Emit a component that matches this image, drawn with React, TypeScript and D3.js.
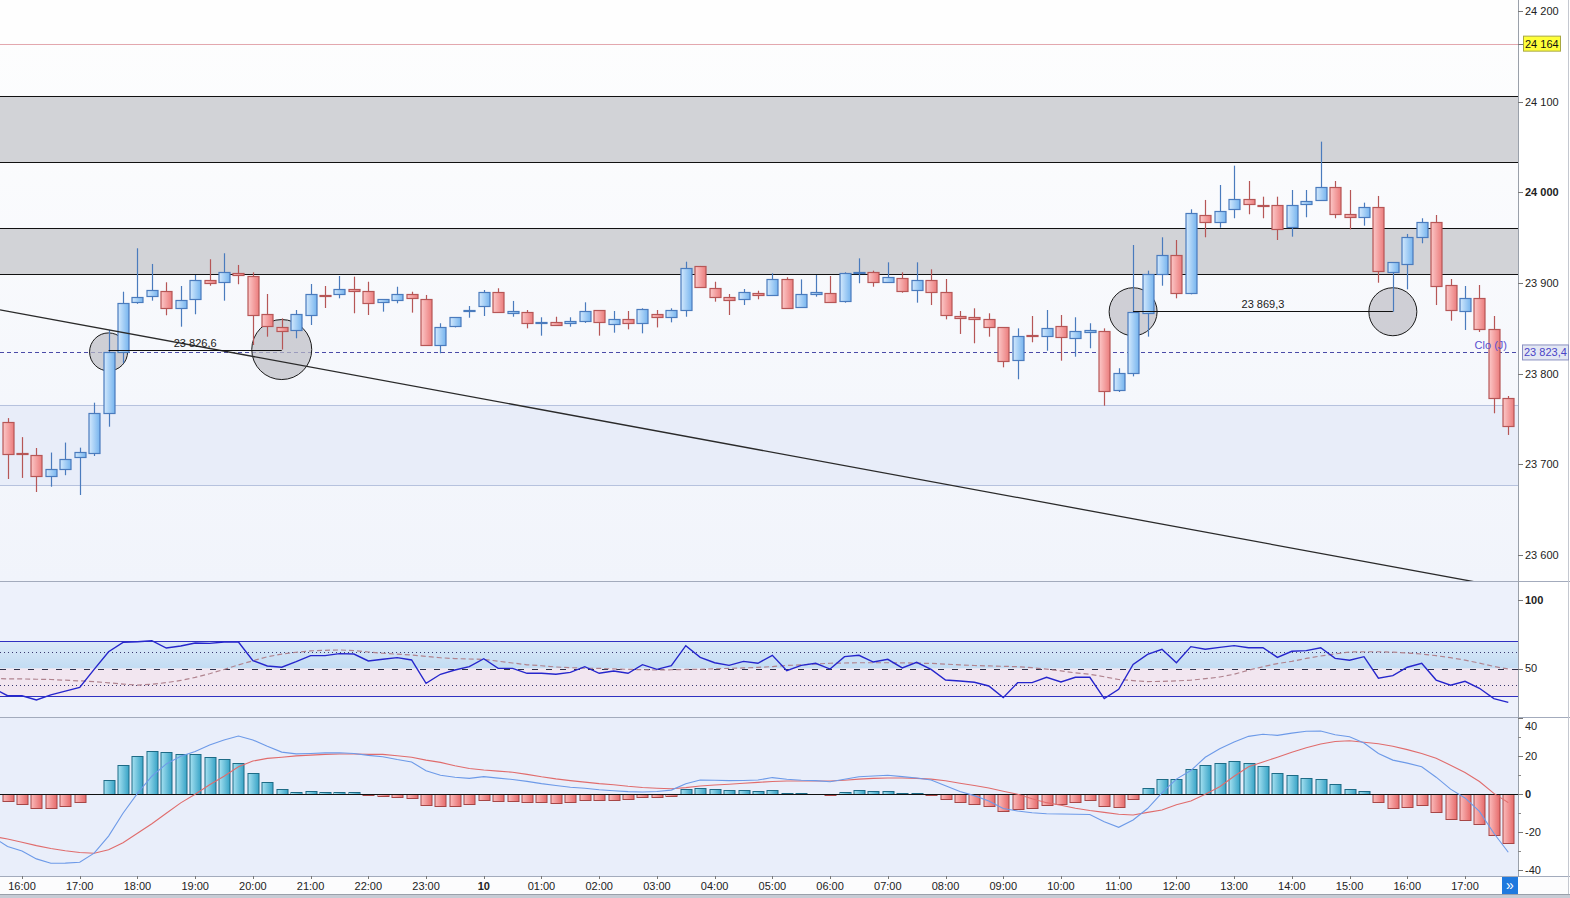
import React from 'react';
import * as d3 from 'd3';

// ---------- DATA (15-minute candles, index 0 = 15:45) ----------
const opens = [
  23746.7, 23712, 23710, 23686.4, 23694.5, 23707.3, 23712, 23756.3, 23823.6, 23878.7,
  23885.7, 23890.9, 23872.1, 23882, 23903, 23900.8, 23911, 23907.4, 23865.5, 23851.1,
  23848.2, 23864.4, 23887, 23887.5, 23893, 23890.9, 23878.7, 23880.9, 23887.5, 23882,
  23831.3, 23852.2, 23869.9, 23874.3, 23889.8, 23867.3, 23867.7, 23856.6, 23857, 23855.5,
  23858.4, 23869.9, 23854.4, 23860, 23855.5, 23865.5, 23862.2, 23869.9, 23918.4, 23894.2,
  23884.2, 23882, 23888.6, 23886.4, 23904, 23873.2, 23887.5, 23888.6, 23879.4, 23911,
  23911.8, 23900.8, 23905.2, 23892, 23903, 23889.8, 23863.3, 23862.2, 23860, 23851.1,
  23815.1, 23842.3, 23840.8, 23852.2, 23839, 23845.6, 23846.7, 23782, 23800.7, 23866.6,
  23909.9, 23930.9, 23888.6, 23974.7, 23967, 23981.3, 23992.3, 23985.7, 23985.7, 23961.4,
  23987.1, 23992.3, 24006.2, 23975.8, 23972.5, 23983.5, 23911.8, 23921.7, 23950.4, 23967,
  23897.8, 23868.3, 23883.1, 23848.9, 23772.8,
];
const highs = [
  23751, 23730, 23718, 23713, 23724, 23718.4, 23768, 23848.2, 23890.4, 23938.3,
  23921, 23900.8, 23896.7, 23908.8, 23926.2, 23932.8, 23919.9, 23911.8, 23887.9, 23861,
  23870.2, 23898.9, 23896.7, 23907.7, 23907, 23901.4, 23882.3, 23895.9, 23890.4, 23886.8,
  23855.6, 23862.5, 23874.6, 23892.3, 23894.2, 23880.2, 23870.2, 23862.2, 23862.8, 23862.2,
  23878.7, 23870.2, 23869.1, 23869.1, 23872.1, 23870.2, 23872.1, 23923.5, 23918.8, 23901.4,
  23887.9, 23893.4, 23891.5, 23910.7, 23906.3, 23904, 23908.8, 23907.7, 23911.8, 23927.2,
  23913.6, 23922.8, 23911.8, 23922.8, 23915.1, 23904.4, 23869.1, 23872.1, 23866.6, 23851.5,
  23850, 23863.6, 23870.2, 23864.7, 23862.2, 23855.6, 23850, 23806, 23941.9, 23913.6,
  23950.4, 23947.4, 23981.3, 23991.6, 24008.1, 24029.4, 24012.5, 23995.2, 23995.2, 24002.6,
  24002.6, 24055.9, 24012.5, 24002.6, 23988.6, 23996, 23922.8, 23954.1, 23971.4, 23975,
  23904.4, 23896.7, 23897.8, 23863.6, 23775.4,
];
const lows = [
  23683.8, 23685, 23669.5, 23675.3, 23688, 23666.2, 23709.2, 23741.5, 23811.4, 23877,
  23880.5, 23864.4, 23851.8, 23865.5, 23897, 23880.5, 23898.6, 23831.6, 23840.8, 23826.6,
  23839, 23853.7, 23872.4, 23883.1, 23866.6, 23864.7, 23868.4, 23877.6, 23867.3, 23831,
  23822.5, 23851, 23861.7, 23863.6, 23867, 23862.8, 23850, 23841.9, 23852.6, 23851.8,
  23856, 23841.9, 23845.2, 23848.9, 23844.5, 23851, 23856.6, 23862.8, 23895, 23879.4,
  23864.7, 23875.7, 23882, 23886.4, 23872.1, 23873.2, 23884.9, 23878.7, 23878.3, 23899.7,
  23895.9, 23900.8, 23889.3, 23878.3, 23875.7, 23859.9, 23843.8, 23833.5, 23840.8, 23807,
  23793.8, 23834.6, 23825.3, 23814.3, 23818.7, 23828, 23764.7, 23779.8, 23797, 23840.8,
  23897, 23883.1, 23887.5, 23950.4, 23961, 23971.4, 23975.8, 23971.4, 23947.4, 23951.1,
  23972.5, 23992.3, 23971.4, 23959.2, 23963.2, 23900.3, 23868.3, 23893, 23943.8, 23875.7,
  23858.4, 23848.2, 23846, 23756.3, 23732.4,
];
const closes = [
  23711.4, 23710.5, 23686.4, 23694.5, 23705.6, 23713.3, 23756.3, 23824, 23877.6, 23884.2,
  23892, 23872.1, 23881, 23903, 23899.7, 23911.8, 23908.5, 23864.4, 23851.8, 23847,
  23865.5, 23887.5, 23886, 23893, 23890.9, 23877.6, 23882, 23887.5, 23883.1, 23831.3,
  23851.1, 23862.2, 23870.6, 23889.8, 23868, 23869.1, 23855.5, 23857.3, 23854, 23858.1,
  23869.1, 23856.6, 23860, 23855.5, 23871, 23862.2, 23869.9, 23916.2, 23895.3, 23884.2,
  23880.5, 23889.8, 23886.4, 23904, 23872.1, 23887.5, 23889.8, 23878.7, 23910.7, 23911.8,
  23900.8, 23906.3, 23890.4, 23903, 23889.8, 23863.9, 23860.7, 23859.5, 23851.1, 23813.2,
  23841.9, 23840.8, 23850, 23840.1, 23846.7, 23848.2, 23780.1, 23800.7, 23868.3, 23909.9,
  23930.9, 23888.6, 23976.9, 23967, 23979.1, 23992.3, 23987.1, 23985.3, 23959.2, 23985.7,
  23990.4, 24006.2, 23976.1, 23972.5, 23983.5, 23912.5, 23922.8, 23951.1, 23967, 23896.7,
  23870.2, 23883.1, 23848.9, 23772.8, 23741.5,
];

// indicator values; the first entry of each belongs to the candle before index 0 (15:30, off the left edge)
const rsi = [
  35.8,
  30.2, 30.2, 27.1, 30.8, 33.5, 36.3, 49.4, 62.2, 69, 69.5,
  70.2, 64.9, 66.4, 68.5, 68.3, 69.3, 69.3, 55.7, 51.8, 50.9,
  55, 59.4, 59.4, 60.8, 60.5, 55.5, 56.7, 57.9, 56.2, 39.2,
  45.8, 48.9, 51.3, 57.1, 50.1, 50.1, 46.5, 46.5, 45.8, 47.2,
  51.3, 46.5, 48.2, 46.5, 52.8, 49.4, 52, 66.6, 58.1, 54.2,
  52.3, 55.2, 53.8, 59.6, 48.4, 52.3, 53.8, 49.6, 58.6, 59.6,
  54.7, 56.7, 50.4, 54.5, 49.4, 41.6, 40.9, 40, 37.3, 28.8,
  39.7, 39.7, 43.6, 40.2, 43.6, 43.6, 28.1, 34.9, 53, 60.3,
  64, 54.2, 65.9, 64, 65.4, 66.6, 65.1, 65.1, 58.1, 62.5,
  63, 65.1, 57.4, 56, 58.6, 42.9, 44.8, 50.9, 53.8, 41.6,
  37.8, 40.7, 35.6, 28.1, 25.4,
];
const rsiSignal = [
  42.7,
  42.5, 42.4, 42.2, 42, 41.5, 41, 40.5, 39.6, 38.7, 37.9,
  38.6, 39.7, 41.3, 43.5, 46.2, 49.3, 52.6, 55.6, 58.5, 60.5,
  61.8, 62.8, 63.2, 63.5, 63, 62, 61.1, 60.4, 59.8, 58.8,
  57.8, 57.2, 56.9, 56.6, 55.3, 54, 52.7, 52, 51.1, 50.6,
  50.2, 50.1, 49.7, 49.4, 49.1, 48.9, 49.1, 49.3, 49.4, 49.8,
  50.1, 50.4, 50.8, 51.4, 52.2, 52.6, 53.3, 53.8, 54, 54.2,
  54.2, 54.2, 54.1, 53.9, 53.7, 53.2, 52.6, 52.2, 51.9, 51.6,
  51.3, 50.6, 49.5, 48.3, 46.8, 45.8, 44, 42, 41.2, 40.5,
  40.6, 41, 41.5, 42.6, 43.8, 45.8, 48.8, 51.3, 53.6, 55.2,
  57.3, 59.1, 60.6, 62, 62.2, 62.2, 61.9, 61.3, 60.5, 59.3,
  57.9, 56.1, 53.9, 51.5, 49.6,
];
const macdLine = [
  -22.5,
  -27.5, -29.8, -34, -36.3, -36.2, -35.8, -31, -22, -10, 0.5,
  9.5, 16, 20, 22.5, 26, 28.6, 30.7, 28.6, 25.3, 22.2,
  21.3, 21.5, 21.8, 21.9, 21.5, 20.5, 19.8, 18.3, 17, 12.4,
  10, 9, 8.4, 9.3, 8.5, 7.8, 6.8, 5.6, 4.6, 3.7,
  3.2, 2.4, 1.9, 1.4, 1.2, 1.5, 2.2, 5.6, 7.5, 7.4,
  7.2, 7.3, 7.5, 8.8, 7.9, 7.4, 7.2, 6.6, 7.9, 9.2,
  9.6, 10, 9.3, 8.6, 7.5, 4.5, 1.5, -0.7, -3.5, -7.5,
  -8.8, -9.7, -10.2, -10.4, -10.5, -10.6, -14.5, -17.4, -13.5, -7.5,
  0.8, 8, 12.5, 19.5, 24, 27.5, 30.5, 31.6, 31, 32.2,
  33.2, 33.3, 31.3, 30.3, 27, 21.5, 18, 16.4, 14.5, 9,
  2.7, -1.9, -9, -20.5, -30.5,
];
const macdSignal = [
  -22.2,
  -23.5, -25.2, -27, -28.5, -29.7, -30.6, -31, -29.2, -25.5, -20.5,
  -15.5, -10, -4.5, 0, 5, 9.5, 14.5, 17.5, 18.9, 19.5,
  20.2, 20.6, 21, 21.2, 21.2, 21, 21, 20.3, 19.5, 18,
  16.8, 15, 13.6, 12.8, 12.2, 11.6, 10.5, 9.2, 8.1, 7.2,
  6.4, 5.6, 5, 4.2, 3.6, 3.2, 2.9, 3.5, 4.4, 4.9,
  5.3, 5.8, 6.3, 6.7, 7, 7, 7, 7, 7.4, 8,
  8.4, 8.6, 8.6, 8.4, 8, 7.1, 5.8, 4.6, 3.3, 1.6,
  0, -2.3, -4.4, -5.8, -7.3, -8.5, -9.5, -10.5, -10.9, -9.5,
  -8.3, -5.5, -3.5, 0, 4, 9.5, 14.5, 17, 19.5, 22.1,
  24.5, 26.5, 27.8, 28.2, 27.4, 26.6, 25.3, 23.5, 21.5, 19,
  15.3, 11.5, 6.7, 0.5, -4.4,
];
const macdHist = [
  -3.9, -5.3, -7.6, -7.6, -6.5, -4.2, 0, 7.4, 15.3, 20,
  22.6, 22.1, 21, 21, 19.5, 18.4, 16.3, 11, 6.3, 2.6,
  1, 1.6, 1, 1, 1, -0.5, -1.2, -1.8, -2.3, -6,
  -6.5, -6.5, -5.3, -3.2, -3.9, -3.7, -4.4, -4.4, -4.7, -4.2,
  -3.2, -3.2, -3.2, -2.6, -1.6, -1.6, -1, 2.6, 3.2, 2.6,
  2.1, 2.1, 1.6, 2.1, 0.5, 0.5, 0, -0.5, 1, 2.1,
  1.6, 1.6, 0.5, 0.5, -0.5, -2.6, -4.2, -5.3, -6.3, -8.9,
  -7.9, -7.6, -5.8, -5.3, -4.2, -3.2, -6.3, -7, -2.6, 3.2,
  7.9, 7.9, 13.2, 15.3, 16.3, 17.4, 16.3, 14.7, 11.1, 10,
  8.4, 7.9, 5.3, 2.6, 1.6, -4.2, -7.6, -6.8, -5.8, -9.7,
  -13.2, -13.7, -16, -21.8, -25.8,
];

const timeLabels = [
  '16:00', '17:00', '18:00', '19:00', '20:00', '21:00', '22:00', '23:00', '10',
  '01:00', '02:00', '03:00', '04:00', '05:00', '06:00', '07:00', '08:00', '09:00',
  '10:00', '11:00', '12:00', '13:00', '14:00', '15:00', '16:00', '17:00',
];
const timeLabelFirstIndex = 1;
const candlesPerHour = 4;

const priceTicks = [24200, 24100, 24000, 23900, 23800, 23700, 23600];
const rsiTicks = [100, 50];
const rsiBands = { upper: 70, lower: 30, mid: 50, fibHi: 61.8, fibLo: 38.2 };
const macdTicks = [40, 20, 0, -20, -40];
const macdMinorTicks = [30, 10, -10, -30];

const greyZones = [
  [24106.3, 24033.5],
  [23960.7, 23909.9],
];
const blueZone = [23765.5, 23677.2];
const highLevel = 24164;
const prevClose = 23823.4;
const levelLines = [
  { from: 7, to: 19, price: 23826.6 },
  { from: 78, to: 96, price: 23869.3 },
];
const circleMarks = [
  { i: 7, price: 23824 },
  { i: 19, price: 23826.6 },
  { i: 78, price: 23868.3 },
  { i: 96, price: 23868.3 },
];
const circleRadii = [19, 30, 24, 24];
const trendAnchors = [
  { i: 0, price: 23868.9 },
  { i: 104, price: 23563.6 },
];

// ---------- helpers ----------
const FONT = '"Liberation Sans", Arial, Helvetica, sans-serif';
const fmtNum = (v: number, dec = 0) =>
  d3.format(`,.${dec}f`)(v).replace(/,/g, ' ').replace('.', ',');
const px = (v: number) => Math.round(v) + 0.5;

export default function App() {
  const W = 1570;
  const H = 898;
  const R = 1518; // right edge of plot area
  const mainB = 581;
  const rsiB = 717;
  const macdB = 876;
  const axisB = 894;

  const x = d3.scaleLinear().domain([1, 101]).range([22, 1465]);
  const y = d3.scaleLinear().domain([23600, 24200]).range([555, 11]);
  const yR = d3.scaleLinear().domain([30, 70]).range([696, 641]);
  const yM = d3.scaleLinear().domain([-20, 20]).range([832.3, 756.3]);

  const n = closes.length;
  const idx = d3.range(n);
  const bw = 11;

  // indicator arrays start one candle before index 0
  const indLine = (ys: d3.ScaleLinear<number, number>, arr: number[]) =>
    d3.line<number>().x((_, i) => x(i - 1)).y((d) => ys(d))(arr) || '';
  const rsiPath = indLine(yR, rsi);
  const rsiSigPath = indLine(yR, rsiSignal);
  const macdPath = indLine(yM, macdLine);
  const macdSigPath = indLine(yM, macdSignal);

  const trendP = d3
    .scaleLinear()
    .domain([trendAnchors[0].i, trendAnchors[1].i])
    .range([trendAnchors[0].price, trendAnchors[1].price]);
  const tx0 = 0;
  const tx1 = R;
  const ty0 = y(trendP(x.invert(tx0)));
  const ty1 = y(trendP(x.invert(tx1)));

  const upStroke = '#4a7bbd';
  const dnStroke = '#b65656';

  return (
    <svg
      width={W}
      height={H}
      viewBox={`0 0 ${W} ${H}`}
      style={{ position: 'absolute', left: 0, top: 0, display: 'block', fontFamily: FONT }}
    >
      <defs>
        <linearGradient id="gUp" x1="0" x2="1" y1="0" y2="0">
          <stop offset="0" stopColor="#d3e9fd" />
          <stop offset="1" stopColor="#76b4ee" />
        </linearGradient>
        <linearGradient id="gDn" x1="0" x2="1" y1="0" y2="0">
          <stop offset="0" stopColor="#fcc8c8" />
          <stop offset="1" stopColor="#eb7c7c" />
        </linearGradient>
        <linearGradient id="gTeal" x1="0" x2="1" y1="0" y2="0">
          <stop offset="0" stopColor="#a6e1f1" />
          <stop offset="1" stopColor="#37a3c6" />
        </linearGradient>
        <linearGradient id="gHistDn" x1="0" x2="1" y1="0" y2="0">
          <stop offset="0" stopColor="#fbbcbc" />
          <stop offset="1" stopColor="#e66a6a" />
        </linearGradient>
        <linearGradient id="gMain" x1="0" x2="0" y1="0" y2="1">
          <stop offset="0" stopColor="#fefefe" />
          <stop offset="1" stopColor="#f1f4fb" />
        </linearGradient>
        <linearGradient id="gRsiHi" x1="0" x2="0" y1="0" y2="1">
          <stop offset="0" stopColor="#dce9f8" />
          <stop offset="1" stopColor="#c2dcf3" />
        </linearGradient>
        <clipPath id="clipMain">
          <rect x={0} y={0} width={R} height={mainB} />
        </clipPath>
        <clipPath id="clipRsi">
          <rect x={0} y={mainB} width={R} height={rsiB - mainB} />
        </clipPath>
        <clipPath id="clipMacd">
          <rect x={0} y={rsiB} width={R} height={macdB - rsiB} />
        </clipPath>
      </defs>

      {/* page background */}
      <rect x={0} y={0} width={W} height={H} fill="#ffffff" />

      {/* ---------- MAIN PANE ---------- */}
      <rect x={0} y={0} width={R} height={mainB} fill="url(#gMain)" />
      <rect x={0} y={0} width={R} height={y(highLevel)} fill="#fefefe" />
      <g clipPath="url(#clipMain)">
        <rect
          x={0}
          y={y(blueZone[0])}
          width={R}
          height={y(blueZone[1]) - y(blueZone[0])}
          fill="#e8edf9"
        />
        <line x1={0} x2={R} y1={px(y(blueZone[0]))} y2={px(y(blueZone[0]))} stroke="#b6c2de" />
        <line x1={0} x2={R} y1={px(y(blueZone[1]))} y2={px(y(blueZone[1]))} stroke="#b6c2de" />

        {greyZones.map(([top, bot], k) => (
          <g key={`gz${k}`}>
            <rect x={0} y={y(top)} width={R} height={y(bot) - y(top)} fill="#d2d3d7" />
            <line x1={0} x2={R} y1={px(y(top))} y2={px(y(top))} stroke="#111" />
            <line x1={0} x2={R} y1={px(y(bot))} y2={px(y(bot))} stroke="#111" />
          </g>
        ))}

        <line x1={0} x2={R} y1={px(y(highLevel))} y2={px(y(highLevel))} stroke="#e3a8ae" />
        <line
          x1={0}
          x2={R}
          y1={px(y(prevClose))}
          y2={px(y(prevClose))}
          stroke="#4b4ba8"
          strokeDasharray="4,3"
        />

        {circleMarks.map((c, k) => (
          <circle
            key={`c${k}`}
            cx={x(c.i)}
            cy={y(c.price)}
            r={circleRadii[k]}
            fill="#bdbec4"
            fillOpacity={0.7}
            stroke="#1a1a1a"
            strokeWidth={1}
          />
        ))}

        {idx.map((i) => {
          const up = closes[i] >= opens[i];
          const cx = px(x(i));
          const top = y(Math.max(opens[i], closes[i]));
          const bot = y(Math.min(opens[i], closes[i]));
          const t = Math.round(top) + 0.5;
          const h = Math.max(Math.round(bot - top), 1);
          const col = up ? upStroke : dnStroke;
          return (
            <g key={`k${i}`}>
              <line x1={cx} x2={cx} y1={y(highs[i])} y2={y(lows[i])} stroke={col} strokeWidth={1.2} />
              <rect
                x={cx - bw / 2}
                y={t}
                width={bw}
                height={h}
                fill={`url(#${up ? 'gUp' : 'gDn'})`}
                stroke={col}
                strokeWidth={1.2}
              />
            </g>
          );
        })}

        <line x1={tx0} y1={ty0} x2={tx1} y2={ty1} stroke="#2a2a2a" strokeWidth={1.3} />

        {levelLines.map((l, k) => {
          const yy = px(y(l.price));
          const xa = x(l.from);
          const xb = x(l.to);
          return (
            <g key={`lv${k}`}>
              <line x1={xa} x2={xb} y1={yy} y2={yy} stroke="#111" strokeWidth={1.2} />
              <text x={(xa + xb) / 2} y={yy - 4} fontSize={11} fill="#1a1a1a" textAnchor="middle">
                {fmtNum(l.price, 1)}
              </text>
            </g>
          );
        })}

        <text x={1507} y={y(prevClose) - 3} fontSize={11} fill="#5a50cf" textAnchor="end">
          Clo (J)
        </text>
      </g>

      {/* ---------- RSI PANE ---------- */}
      <rect x={0} y={mainB} width={R} height={rsiB - mainB} fill="#edf1fb" />
      <g clipPath="url(#clipRsi)">
        <rect
          x={0}
          y={yR(rsiBands.upper)}
          width={R}
          height={yR(rsiBands.mid) - yR(rsiBands.upper)}
          fill="url(#gRsiHi)"
        />
        <rect
          x={0}
          y={yR(rsiBands.mid)}
          width={R}
          height={yR(rsiBands.lower) - yR(rsiBands.mid)}
          fill="#f2e6f0"
        />
        <line x1={0} x2={R} y1={px(yR(rsiBands.upper))} y2={px(yR(rsiBands.upper))} stroke="#3030c0" />
        <line x1={0} x2={R} y1={px(yR(rsiBands.lower))} y2={px(yR(rsiBands.lower))} stroke="#3030c0" />
        <line
          x1={0}
          x2={R}
          y1={px(yR(rsiBands.fibHi))}
          y2={px(yR(rsiBands.fibHi))}
          stroke="#3a3a70"
          strokeDasharray="1,3"
        />
        <line
          x1={0}
          x2={R}
          y1={px(yR(rsiBands.fibLo))}
          y2={px(yR(rsiBands.fibLo))}
          stroke="#3a3a70"
          strokeDasharray="1,3"
        />
        <line
          x1={0}
          x2={R}
          y1={px(yR(rsiBands.mid))}
          y2={px(yR(rsiBands.mid))}
          stroke="#303048"
          strokeDasharray="6,8"
        />
        <path d={rsiSigPath} fill="none" stroke="#b0848f" strokeWidth={1.2} strokeDasharray="5,3" />
        <path d={rsiPath} fill="none" stroke="#2626cc" strokeWidth={1.4} />
      </g>

      {/* ---------- MACD PANE ---------- */}
      <rect x={0} y={rsiB} width={R} height={macdB - rsiB} fill="#e9eefa" />
      <g clipPath="url(#clipMacd)">
        {idx.map((i) => {
          const v = macdHist[i];
          if (Math.abs(v) < 0.05) return null;
          const y0 = yM(0);
          const y1 = yM(v);
          const top = Math.round(Math.min(y0, y1)) + 0.5;
          const h = Math.max(Math.round(Math.abs(y1 - y0)), 1);
          const pos = v > 0;
          return (
            <rect
              key={`h${i}`}
              x={px(x(i)) - bw / 2}
              y={top}
              width={bw}
              height={h}
              fill={`url(#${pos ? 'gTeal' : 'gHistDn'})`}
              stroke={pos ? '#1d6b86' : '#a64646'}
              strokeWidth={1}
            />
          );
        })}
        <line x1={0} x2={R} y1={px(yM(0))} y2={px(yM(0))} stroke="#111" strokeWidth={1.2} />
        <path d={macdSigPath} fill="none" stroke="#e06c6c" strokeWidth={1.1} />
        <path d={macdPath} fill="none" stroke="#6d9ae8" strokeWidth={1.1} />
      </g>

      {/* ---------- separators ---------- */}
      <line x1={0} x2={W} y1={mainB + 0.5} y2={mainB + 0.5} stroke="#a3abbc" />
      <line x1={0} x2={W} y1={rsiB + 0.5} y2={rsiB + 0.5} stroke="#a3abbc" />
      <line x1={0} x2={W} y1={macdB + 0.5} y2={macdB + 0.5} stroke="#a3abbc" />

      {/* ---------- right axis ---------- */}
      <line x1={R + 0.5} x2={R + 0.5} y1={0} y2={axisB} stroke="#9aa0aa" />
      <line x1={W - 1.5} x2={W - 1.5} y1={0} y2={axisB} stroke="#c4c8d0" />

      {priceTicks.map((t) => (
        <g key={`pt${t}`}>
          <line x1={R} x2={R + 5} y1={px(y(t))} y2={px(y(t))} stroke="#777" />
          <text
            x={R + 7}
            y={y(t)}
            dy="0.36em"
            fontSize={11}
            fill="#222"
            fontWeight={t % 1000 === 0 ? 'bold' : 'normal'}
          >
            {fmtNum(t)}
          </text>
        </g>
      ))}

      {/* high level tag */}
      <line x1={R} x2={R + 5} y1={px(y(highLevel))} y2={px(y(highLevel))} stroke="#777" />
      <rect x={R + 5.5} y={y(highLevel) - 7.5} width={37} height={15} fill="#ffff3a" stroke="#a8a842" />
      <text x={R + 7} y={y(highLevel)} dy="0.36em" fontSize={11} fill="#111">
        {fmtNum(highLevel)}
      </text>

      {/* previous close tag */}
      <rect x={R + 4.5} y={y(prevClose) - 7.5} width={46} height={15} fill="#e3e7f3" stroke="#8a90c2" />
      <text x={R + 6} y={y(prevClose)} dy="0.36em" fontSize={11} fill="#4a44c8">
        {fmtNum(prevClose, 1)}
      </text>

      {rsiTicks.map((t) => (
        <g key={`rt${t}`}>
          <line x1={R} x2={R + 5} y1={px(yR(t))} y2={px(yR(t))} stroke="#777" />
          <text
            x={R + 7}
            y={yR(t)}
            dy="0.36em"
            fontSize={11}
            fill="#222"
            fontWeight={t === 100 ? 'bold' : 'normal'}
          >
            {t}
          </text>
        </g>
      ))}

      {macdMinorTicks.map((t) => (
        <line key={`mm${t}`} x1={R} x2={R + 3} y1={px(yM(t))} y2={px(yM(t))} stroke="#888" />
      ))}
      {macdTicks.map((t) => (
        <g key={`mt${t}`}>
          <line x1={R} x2={R + 5} y1={px(yM(t))} y2={px(yM(t))} stroke="#777" />
          <text
            x={R + 7}
            y={Math.max(yM(t), rsiB + 9)}
            dy="0.36em"
            fontSize={11}
            fill="#222"
            fontWeight={t === 0 ? 'bold' : 'normal'}
          >
            {t}
          </text>
        </g>
      ))}

      {/* ---------- time axis ---------- */}
      <rect x={0} y={macdB + 1} width={W - 2} height={axisB - macdB - 1} fill="#fcfcfd" />
      {timeLabels.map((lab, k) => {
        const xi = x(timeLabelFirstIndex + k * candlesPerHour);
        return (
          <g key={`tl${k}`}>
            <line x1={px(xi)} x2={px(xi)} y1={macdB} y2={macdB + 3} stroke="#777" />
            <text
              x={xi}
              y={890}
              fontSize={11}
              fill="#222"
              textAnchor="middle"
              fontWeight={lab.length <= 2 ? 'bold' : 'normal'}
            >
              {lab}
            </text>
          </g>
        );
      })}
      <rect x={1502} y={macdB + 1} width={16} height={17} fill="#1f79de" />
      <text x={1510} y={890} fontSize={14} fill="#ffffff" textAnchor="middle">
        »
      </text>
      <rect x={0} y={axisB} width={W} height={H - axisB} fill="#c7ccd5" />
      <line x1={0} x2={W} y1={axisB + 0.5} y2={axisB + 0.5} stroke="#9aa0aa" />
    </svg>
  );
}
